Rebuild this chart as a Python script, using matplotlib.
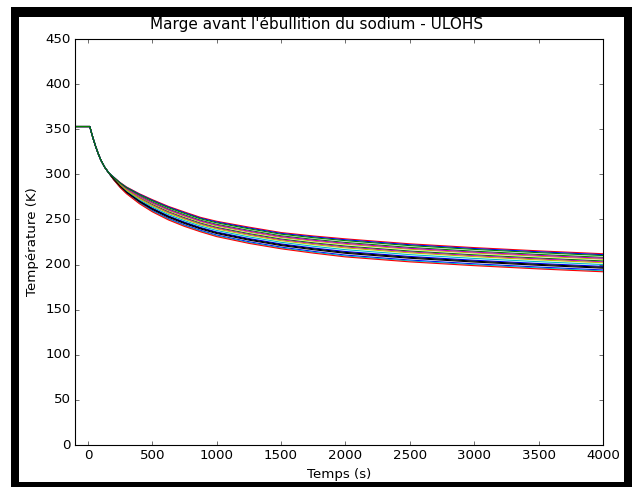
import matplotlib
matplotlib.use('Agg')
import matplotlib.pyplot as plt
from matplotlib.patches import Rectangle

# common start of every run (before the curves separate)
start_t = [-100, 15, 25, 40, 60, 80, 100, 130, 160]
start_val = [353, 353, 347.5, 340, 331, 323, 316, 308, 302]

# times where the runs have spread apart
tail_t = [200, 250, 300, 400, 500, 625, 750, 875, 1000,
          1250, 1500, 1750, 2000, 2500, 3000, 3500, 4000]

# one row per run (temperature margin in K)
runs = [
    [294.3, 286.1, 279.3, 268.6, 259.9, 251.0, 243.9, 237.9, 232.7, 225.3, 219.3, 214.6, 210.5, 205.0, 200.8, 197.2, 194.0],
    [295.8, 288.8, 283.0, 274.1, 266.6, 258.5, 251.9, 245.9, 241.2, 234.3, 228.3, 224.1, 220.5, 215.0, 210.8, 207.2, 204.0],
    [297.0, 291.0, 286.0, 278.5, 272.0, 264.5, 258.3, 252.3, 248.0, 241.5, 235.5, 231.7, 228.5, 223.0, 218.8, 215.2, 212.0],
    [294.2, 285.8, 278.9, 268.1, 259.2, 250.3, 243.1, 237.1, 231.9, 224.4, 218.4, 213.7, 209.5, 204.0, 199.8, 196.2, 193.0],
    [295.7, 288.5, 282.6, 273.6, 265.9, 257.8, 251.1, 245.1, 240.4, 233.4, 227.4, 223.2, 219.5, 214.0, 209.8, 206.2, 203.0],
    [296.1, 289.4, 283.8, 275.2, 268.0, 260.0, 253.5, 247.5, 242.9, 236.1, 230.1, 226.0, 222.5, 217.0, 212.8, 209.2, 206.0],
    [294.6, 286.6, 280.0, 269.7, 261.2, 252.5, 245.5, 239.5, 234.4, 227.1, 221.1, 216.5, 212.5, 207.0, 202.8, 199.2, 196.0],
    [294.9, 287.2, 280.8, 270.8, 262.6, 254.0, 247.1, 241.1, 236.1, 228.9, 222.9, 218.4, 214.5, 209.0, 204.8, 201.2, 198.0],
    [296.4, 289.9, 284.5, 276.3, 269.3, 261.5, 255.1, 249.1, 244.6, 237.9, 231.9, 227.9, 224.5, 219.0, 214.8, 211.2, 208.0],
    [294.0, 285.5, 278.5, 267.5, 258.5, 249.5, 242.3, 236.3, 231.0, 223.5, 217.5, 212.7, 208.5, 203.0, 198.8, 195.2, 192.0],
    [295.2, 287.7, 281.5, 271.9, 263.9, 255.5, 248.7, 242.7, 237.8, 230.7, 224.7, 220.3, 216.5, 211.0, 206.8, 203.2, 200.0],
    [296.3, 289.6, 284.1, 275.8, 268.6, 260.8, 254.3, 248.3, 243.8, 237.0, 231.0, 227.0, 223.5, 218.0, 213.8, 210.2, 207.0],
    [295.5, 288.3, 282.3, 273.0, 265.3, 257.0, 250.3, 244.3, 239.5, 232.5, 226.5, 222.2, 218.5, 213.0, 208.8, 205.2, 202.0],
    [294.8, 286.9, 280.4, 270.3, 261.9, 253.3, 246.3, 240.3, 235.3, 228.0, 222.0, 217.5, 213.5, 208.0, 203.8, 200.2, 197.0],
    [296.9, 290.7, 285.6, 278.0, 271.3, 263.8, 257.5, 251.5, 247.2, 240.6, 234.6, 230.8, 227.5, 222.0, 217.8, 214.2, 211.0],
    [296.7, 290.5, 285.3, 277.4, 270.7, 263.0, 256.7, 250.7, 246.3, 239.7, 233.7, 229.8, 226.5, 221.0, 216.8, 213.2, 210.0],
]

plt.style.use('classic')
fig = plt.figure(figsize=(7.9, 6.0875), dpi=80, facecolor='white')
ax = fig.add_axes([0.1187, 0.0862, 0.8354, 0.8337])

for r in runs:
    ax.plot(start_t + tail_t, start_val + r)

ax.set_xlim(-100, 4000)
ax.set_ylim(0, 450)
ax.set_xticks(range(0, 4001, 500))
ax.set_yticks(range(0, 451, 50))
ax.set_xlabel('Temps (s)')
ax.set_ylabel('Température (K)')
fig.text(0.5016, 0.9507, "Marge avant l'ébullition du sodium - ULOHS",
         ha='center', va='center', fontsize=13.7)

# thick black frame around the picture
W, H = 632.0, 487.0
for x0, y0, x1, y1 in [(11, 7, 19, 487), (11, 7, 632, 17),
                       (624, 7, 632, 487), (11, 482, 632, 487)]:
    fig.patches.append(Rectangle((x0 / W, 1 - y1 / H), (x1 - x0) / W, (y1 - y0) / H,
                                 transform=fig.transFigure, facecolor='black',
                                 edgecolor='none', zorder=10))

fig.savefig('out.png', dpi=80, facecolor='white')
